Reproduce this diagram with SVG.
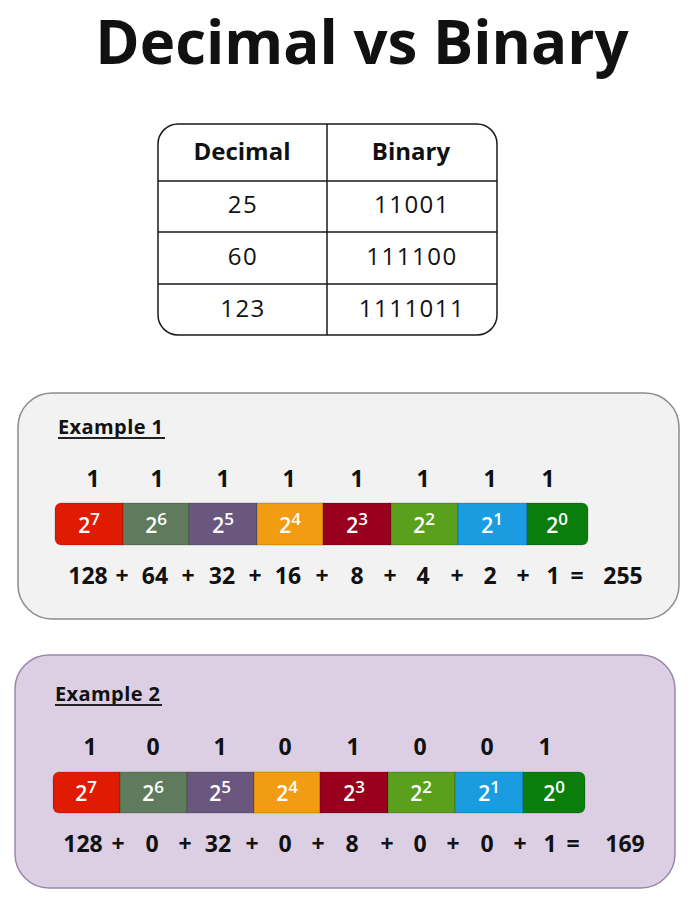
<svg xmlns="http://www.w3.org/2000/svg" width="697" height="899" viewBox="0 0 697 899">
<style>
text{font-family:"Open Sans","Liberation Sans",sans-serif;fill:#111}
.title{font-size:60px;font-weight:700;text-anchor:middle}
.th{font-size:24px;font-weight:700;text-anchor:middle}
.td{font-size:24px;font-weight:400;text-anchor:middle;letter-spacing:1.5px}
.ex{font-size:20px;font-weight:700;letter-spacing:0.4px}
.bit{font-size:23px;font-weight:700;text-anchor:middle}
.sum{font-size:23px;font-weight:700;text-anchor:middle}
.pw{font-size:21px;font-weight:600;text-anchor:middle;fill:#fff}
.sup{font-size:17px}
.grid{stroke:#1a1a1a;stroke-width:1.5;fill:none}
.seg{stroke:rgba(0,0,0,0.18);stroke-width:1}
.ul{stroke:#222;stroke-width:2}
</style>
<rect width="697" height="899" fill="#ffffff"/>
<g id="title"><text class="title" x="362" y="64">Decimal vs Binary</text></g>
<g id="table">
<rect class="grid" x="158" y="124" width="339" height="211" rx="20"/>
<line class="grid" x1="327" y1="124" x2="327" y2="335"/>
<line class="grid" x1="158" y1="181" x2="497" y2="181"/>
<line class="grid" x1="158" y1="232" x2="497" y2="232"/>
<line class="grid" x1="158" y1="284" x2="497" y2="284"/>
<text class="th" x="242" y="160">Decimal</text>
<text class="th" x="411" y="160">Binary</text>
<text class="td" x="243" y="213">25</text>
<text class="td" x="412" y="213">11001</text>
<text class="td" x="243" y="265">60</text>
<text class="td" x="412" y="265">111100</text>
<text class="td" x="243" y="317">123</text>
<text class="td" x="412" y="317">1111011</text>
</g>
<g id="example1">
<rect x="18" y="393" width="661" height="226" rx="34" fill="#f2f2f2" stroke="#8c8c8c" stroke-width="1.5"/>
<text class="ex" x="58" y="434">Example 1</text>
<line class="ul" x1="58" y1="438" x2="165" y2="438"/>
<g class="bits">
<text class="bit" x="93" y="487">1</text><text class="bit" x="157" y="487">1</text><text class="bit" x="223" y="487">1</text><text class="bit" x="289" y="487">1</text><text class="bit" x="357" y="487">1</text><text class="bit" x="423" y="487">1</text><text class="bit" x="490" y="487">1</text><text class="bit" x="548" y="487">1</text>
</g>
<g class="bar">
<path class="seg" d="M61,503 H123 V545 H61 A6,6 0 0 1 55,539 V509 A6,6 0 0 1 61,503 Z" fill="#df1c02"/>
<rect class="seg" x="123" y="503" width="66" height="42" fill="#5f7a5c"/>
<rect class="seg" x="189" y="503" width="68" height="42" fill="#6a5780"/>
<rect class="seg" x="257" y="503" width="66" height="42" fill="#f19c12"/>
<rect class="seg" x="323" y="503" width="68" height="42" fill="#98001e"/>
<rect class="seg" x="391" y="503" width="67" height="42" fill="#5aa01c"/>
<rect class="seg" x="458" y="503" width="69" height="42" fill="#1c9ce0"/>
<path class="seg" d="M527,503 H582 A6,6 0 0 1 588,509 V539 A6,6 0 0 1 582,545 H527 Z" fill="#0a7d0c"/>
<text class="pw" x="89" y="533">2<tspan class="sup" dy="-8">7</tspan></text>
<text class="pw" x="156" y="533">2<tspan class="sup" dy="-8">6</tspan></text>
<text class="pw" x="223" y="533">2<tspan class="sup" dy="-8">5</tspan></text>
<text class="pw" x="290" y="533">2<tspan class="sup" dy="-8">4</tspan></text>
<text class="pw" x="357" y="533">2<tspan class="sup" dy="-8">3</tspan></text>
<text class="pw" x="424" y="533">2<tspan class="sup" dy="-8">2</tspan></text>
<text class="pw" x="492" y="533">2<tspan class="sup" dy="-8">1</tspan></text>
<text class="pw" x="557" y="533">2<tspan class="sup" dy="-8">0</tspan></text>
</g>
<g class="sums">
<text class="sum" x="88" y="584">128</text><text class="sum" x="122" y="584">+</text>
<text class="sum" x="155" y="584">64</text><text class="sum" x="188" y="584">+</text>
<text class="sum" x="222" y="584">32</text><text class="sum" x="255" y="584">+</text>
<text class="sum" x="288" y="584">16</text><text class="sum" x="322" y="584">+</text>
<text class="sum" x="357" y="584">8</text><text class="sum" x="390" y="584">+</text>
<text class="sum" x="423" y="584">4</text><text class="sum" x="457" y="584">+</text>
<text class="sum" x="490" y="584">2</text><text class="sum" x="523" y="584">+</text>
<text class="sum" x="553" y="584">1</text><text class="sum" x="577" y="584">=</text>
<text class="sum" x="623" y="584">255</text>
</g>
</g>
<g id="example2">
<rect x="15" y="655" width="660" height="233" rx="34" fill="#dccfe3" stroke="#9a86ad" stroke-width="1.5"/>
<text class="ex" x="55" y="701">Example 2</text>
<line class="ul" x1="55" y1="705" x2="162" y2="705"/>
<g class="bits">
<text class="bit" x="90" y="755">1</text><text class="bit" x="153" y="755">0</text><text class="bit" x="220" y="755">1</text><text class="bit" x="285" y="755">0</text><text class="bit" x="353" y="755">1</text><text class="bit" x="420" y="755">0</text><text class="bit" x="487" y="755">0</text><text class="bit" x="545" y="755">1</text>
</g>
<g class="bar">
<path class="seg" d="M59,772 H120 V813 H59 A6,6 0 0 1 53,807 V778 A6,6 0 0 1 59,772 Z" fill="#df1c02"/>
<rect class="seg" x="120" y="772" width="67" height="41" fill="#5f7a5c"/>
<rect class="seg" x="187" y="772" width="67" height="41" fill="#6a5780"/>
<rect class="seg" x="254" y="772" width="66" height="41" fill="#f19c12"/>
<rect class="seg" x="320" y="772" width="68" height="41" fill="#98001e"/>
<rect class="seg" x="388" y="772" width="67" height="41" fill="#5aa01c"/>
<rect class="seg" x="455" y="772" width="68" height="41" fill="#1c9ce0"/>
<path class="seg" d="M523,772 H579 A6,6 0 0 1 585,778 V807 A6,6 0 0 1 579,813 H523 Z" fill="#0a7d0c"/>
<text class="pw" x="86" y="801">2<tspan class="sup" dy="-8">7</tspan></text>
<text class="pw" x="153" y="801">2<tspan class="sup" dy="-8">6</tspan></text>
<text class="pw" x="220" y="801">2<tspan class="sup" dy="-8">5</tspan></text>
<text class="pw" x="287" y="801">2<tspan class="sup" dy="-8">4</tspan></text>
<text class="pw" x="354" y="801">2<tspan class="sup" dy="-8">3</tspan></text>
<text class="pw" x="421" y="801">2<tspan class="sup" dy="-8">2</tspan></text>
<text class="pw" x="489" y="801">2<tspan class="sup" dy="-8">1</tspan></text>
<text class="pw" x="554" y="801">2<tspan class="sup" dy="-8">0</tspan></text>
</g>
<g class="sums">
<text class="sum" x="83" y="852">128</text><text class="sum" x="118" y="852">+</text>
<text class="sum" x="152" y="852">0</text><text class="sum" x="185" y="852">+</text>
<text class="sum" x="218" y="852">32</text><text class="sum" x="252" y="852">+</text>
<text class="sum" x="285" y="852">0</text><text class="sum" x="318" y="852">+</text>
<text class="sum" x="352" y="852">8</text><text class="sum" x="387" y="852">+</text>
<text class="sum" x="420" y="852">0</text><text class="sum" x="453" y="852">+</text>
<text class="sum" x="487" y="852">0</text><text class="sum" x="520" y="852">+</text>
<text class="sum" x="550" y="852">1</text><text class="sum" x="573" y="852">=</text>
<text class="sum" x="625" y="852">169</text>
</g>
</g>
</svg>
